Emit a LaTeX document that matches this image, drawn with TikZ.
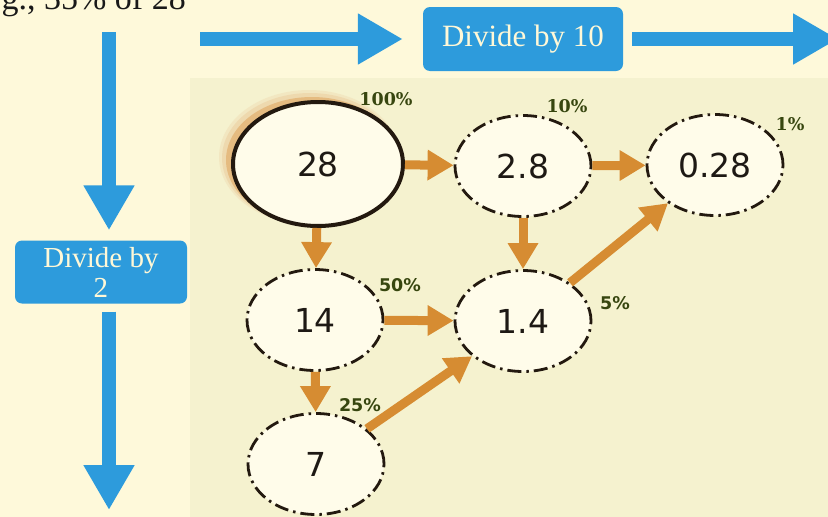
\documentclass[tikz,border=0pt]{standalone}
\usepackage{fontspec}
\setmainfont{Liberation Serif}
\newfontfamily\numfont{DejaVu Sans}
\newfontfamily\pctserif{DejaVu Serif}
\usetikzlibrary{arrows.meta,shapes.geometric}
\definecolor{bgcream}{RGB}{254,249,218}
\definecolor{panelcol}{RGB}{245,242,207}
\definecolor{blueA}{RGB}{45,155,220}
\definecolor{boxtxt}{RGB}{255,248,215}
\definecolor{orangeA}{RGB}{214,140,50}
\definecolor{ellfill}{RGB}{255,252,234}
\definecolor{pctcol}{RGB}{55,70,15}
\definecolor{edgecol}{RGB}{35,25,15}
\definecolor{numcol}{RGB}{30,25,20}
\begin{document}
\begin{tikzpicture}[x=1pt,y=-1pt,
  bluearrow/.style={draw=blueA, line width=14pt, -{Triangle[length=45pt,width=48pt]}},
  bluebox/.style={fill=blueA, rounded corners=7pt, text=boxtxt, align=center, inner sep=0pt},
  ellbase/.style={ellipse, fill=ellfill, inner sep=0pt, text=numcol, font=\numfont\fontsize{33}{33}\selectfont},
  dashell/.style={ellbase, draw=edgecol, line width=2.8pt, dash pattern=on 14pt off 5pt on 2.5pt off 5pt, minimum width=136pt, minimum height=101pt},
  oarrow/.style={draw=orangeA, line width=9pt, -{Triangle[length=26pt,width=29pt]}},
  pcttop/.style={text=pctcol, inner sep=0pt, font=\pctserif\bfseries\fontsize{17.5}{17.5}\selectfont},
  pctlow/.style={text=pctcol, inner sep=0pt, font=\numfont\bfseries\fontsize{17.5}{17.5}\selectfont},
]
\useasboundingbox (0,0) rectangle (828,517);
\clip (0,0) rectangle (828,517);
\fill[bgcream] (0,0) rectangle (828,517);
\fill[panelcol] (190,78) rectangle (828,517);

% top text (cut off at the top edge, as in the reference)
\node[anchor=base east, inner sep=0pt, text=black!90, font=\fontsize{34}{34}\selectfont] (eg) at (186,9) {e.g., 35\% of 28};

% blue boxes and arrows
\node[bluebox, minimum width=200pt, minimum height=64pt, font=\fontsize{31}{31}\selectfont] (d10) at (523,39) {Divide by 10};
\node[bluebox, minimum width=172pt, minimum height=63pt] (d2) at (101,272) {};
\node[text=boxtxt, inner sep=0pt, align=center, font=\fontsize{29}{30}\selectfont] (d2t) at (d2.center) {Divide by\\2};
\coordinate (hleft) at (200,39);
\coordinate (hright) at (838,39);
\coordinate (vtop) at (109,32);
\coordinate (vbot) at (109,510);
\draw[bluearrow, shorten >=20pt] (hleft) -- (hleft -| d10.west);
\draw[bluearrow, shorten <=9pt] (d10.east) -- (hright);
\draw[bluearrow, shorten >=10pt] (vtop) -- (vtop |- d2.north);
\draw[bluearrow, shorten <=8pt] (vbot |- d2.south) -- (vbot);

% glow behind 28
\fill[orangeA!60!white, opacity=0.18] (309,157) ellipse [x radius=90, y radius=67];
\fill[orangeA!60!white, opacity=0.3] (310,158) ellipse [x radius=88, y radius=65];
\fill[orangeA!80!white, opacity=0.55] (312,160) ellipse [x radius=86, y radius=63];

% value nodes
\node[ellbase, draw=edgecol, line width=4pt, minimum width=170pt, minimum height=124pt] (n28) at (318,164) {28};
\node[dashell] (n2p8) at (523,166) {2.8};
\node[dashell] (n0p28) at (715,165) {0.28};
\node[dashell] (n14) at (315,320) {14};
\node[dashell] (n1p4) at (523,321) {1.4};
\node[dashell] (n7) at (316,464) {7};

% orange connectors
\draw[oarrow] (n28) -- (n2p8);
\draw[oarrow] (n28) -- (n14);
\draw[oarrow] (n2p8) -- (n0p28);
\draw[oarrow] (n2p8) -- (n1p4);
\draw[oarrow] (n14) -- (n1p4);
\draw[oarrow] (n14) -- (n7);
\draw[oarrow] (n7) -- (n1p4);
\draw[oarrow] (n1p4) -- (n0p28);

% percentage labels
\node[pcttop] (p100) at (386,99) {100\%};
\node[pcttop] (p10) at (567,106) {10\%};
\node[pcttop] (p1) at (790,124) {1\%};
\node[pctlow] (p50) at (400,285) {50\%};
\node[pctlow] (p5) at (615,303) {5\%};
\node[pctlow] (p25) at (360,405) {25\%};
\end{tikzpicture}
\end{document}
